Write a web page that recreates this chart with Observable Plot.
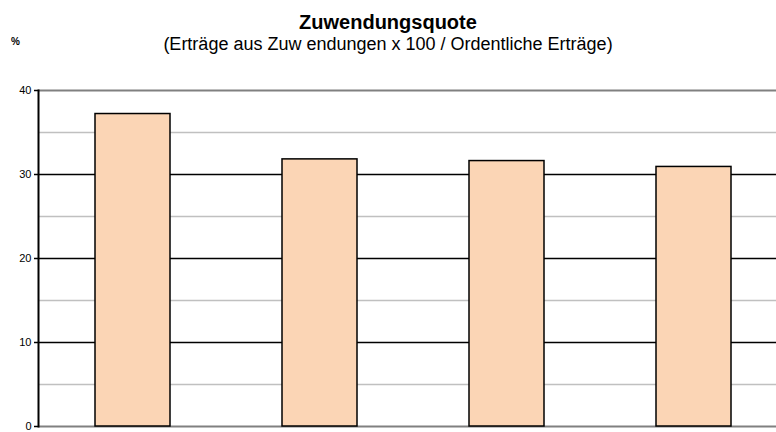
<!DOCTYPE html>
<html><head><meta charset="utf-8">
<script src="https://cdn.jsdelivr.net/npm/d3@7"></script>
<script src="https://cdn.jsdelivr.net/npm/@observablehq/plot@0.6"></script>
<style>
body{margin:0;background:#fff;}
#wrap{position:relative;width:776px;height:432px;font-family:"Liberation Sans",Arial,sans-serif;overflow:hidden;}
#title{position:absolute;left:0;width:776px;top:10px;text-align:center;font-weight:bold;font-size:20px;line-height:24px;}
#subtitle{position:absolute;left:0;width:776px;top:33px;text-align:center;font-size:18px;line-height:22px;}
#unit{position:absolute;left:11px;top:36px;font-size:10px;font-weight:bold;}
#chart{position:absolute;left:0;top:0;}
</style></head>
<body>
<div id="wrap">
<div id="chart"></div>
<div id="title">Zuwendungsquote</div>
<div id="subtitle">(Erträge aus Zuw endungen x 100 / Ordentliche Erträge)</div>
<div id="unit">%</div>
</div>
<script>
const categories = ["Jahr 1", "Jahr 2", "Jahr 3", "Jahr 4"];
const values = [37.2, 31.8, 31.6, 30.9];
const majorTicks = [0, 10, 20, 30, 40];
const minorTicks = [5, 15, 25, 35];

const data = categories.map((c, i) => ({cat: c, value: values[i]}));

const chart = Plot.plot({
  width: 776,
  height: 432,
  marginTop: 90,
  marginBottom: 6,
  marginLeft: 38,
  marginRight: 0,
  style: {fontFamily: "'Liberation Sans', Arial, sans-serif", fontSize: "11px", color: "#000", background: "transparent"},
  x: {domain: categories, range: [38, 787], paddingInner: 0.6, paddingOuter: 0.3, axis: null},
  y: {domain: [0, 40], axis: null},
  marks: [
    Plot.ruleY(minorTicks, {stroke: "#c0c0c0", strokeWidth: 1.5}),
    Plot.ruleY(majorTicks.filter(d => d > 0 && d < 40), {stroke: "#000", strokeWidth: 1.5}),
    Plot.ruleY([40], {stroke: "#808080", strokeWidth: 2}),
    Plot.ruleY([0], {stroke: "#808080", strokeWidth: 2}),
    Plot.barY(data, {x: "cat", y: "value", fill: "#FBD5B5", stroke: "#000", strokeWidth: 1.5}),
    Plot.frame({anchor: "left", stroke: "#000", strokeWidth: 2}),
    Plot.axisY({ticks: majorTicks, label: null, tickSize: 4, tickPadding: 3, tickFormat: d => String(d), stroke: "#000", strokeWidth: 1.5, fontSize: 11})
  ]
});
document.getElementById("chart").appendChild(chart);
</script>
</body></html>
